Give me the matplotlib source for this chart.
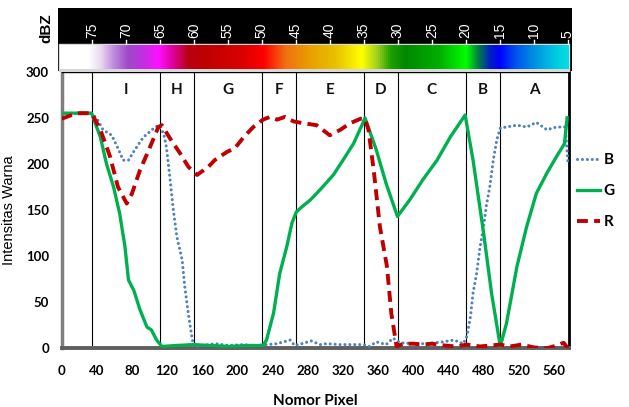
import numpy as np
import matplotlib
matplotlib.use('Agg')
import matplotlib.pyplot as plt
from matplotlib.colors import LinearSegmentedColormap

# pixel number vs colour intensity
r_x = [0, 17, 34, 44, 55, 64, 74, 80, 89, 99, 110, 114, 123, 135, 144, 154, 167, 174, 188, 197,
       207, 218, 229, 237, 245, 254, 264, 276, 290, 305, 317, 328, 340, 345, 349, 355, 362, 370,
       375, 381, 389, 400, 411, 421, 436, 449, 461, 476, 487, 499, 510, 523, 537, 552, 563, 571, 576]
r_y = [249, 255, 255, 237, 208, 175, 157, 168, 193, 215, 240, 242, 228, 211, 197, 188, 197, 204, 213, 217,
       229, 240, 248, 251, 248, 251, 246, 244, 242, 231, 237, 244, 249, 249, 237, 193, 132, 89,
       38, 2, 5, 5, 4, 5, 3, 2, 4, 2, 3, 4, 2, 4, 1, 0, 3, 6, 0]

g_x = [0, 34, 44, 51, 59, 66, 72, 76, 82, 89, 97, 102, 108, 114, 130, 150, 170, 190, 210, 229,
       233, 241, 248, 256, 262, 267, 274, 283, 294, 309, 320, 332, 343, 345, 358, 369, 382, 396,
       411, 427, 442, 459, 468, 480, 489, 499, 506, 518, 529, 540, 552, 563, 572, 575]
g_y = [255, 255, 229, 200, 175, 146, 110, 74, 63, 42, 23, 20, 9, 2, 3, 4, 3, 2, 3, 3,
       9, 38, 81, 110, 136, 148, 154, 161, 172, 188, 204, 222, 245, 250, 215, 179, 143, 161,
       183, 204, 229, 253, 204, 125, 60, 2, 27, 89, 132, 168, 190, 208, 222, 250]

b_x = [0, 34, 40, 47, 57, 63, 70, 76, 83, 93, 104, 110, 116, 119, 123, 127, 131, 137, 140, 144,
       148, 150, 160, 175, 190, 205, 220, 233, 245, 260, 265, 273, 284, 294, 301, 317, 330, 343,
       350, 358, 369, 377, 385, 400, 415, 434, 446, 457, 461, 465, 468, 472, 476, 480, 483, 487,
       491, 495, 499, 506, 518, 529, 540, 552, 563, 573, 576]
b_y = [255, 255, 249, 237, 231, 219, 204, 204, 215, 229, 238, 242, 233, 219, 186, 150, 121, 96, 67, 38,
       13, 2, 3, 5, 3, 4, 3, 4, 5, 9, 3, 5, 8, 4, 5, 4, 4, 4,
       2, 7, 4, 11, 6, 5, 5, 7, 9, 5, 13, 34, 60, 81, 110, 132, 154, 175,
       204, 226, 239, 240, 242, 240, 245, 237, 240, 240, 201]

# dBZ scale and the zones between its marks
dbz_ticks = [75, 70, 65, 60, 55, 50, 45, 40, 35, 30, 25, 20, 15, 10, 5]
zone_bounds = [75, 65, 60, 50, 45, 35, 30, 20, 15]
zone_names = ['I', 'H', 'G', 'F', 'E', 'D', 'C', 'B', 'A']

XMAX = 577.5


def dbz_to_x(d):
    return 34.5 + (75 - d) * 7.73


fig = plt.figure(figsize=(6.29, 4.07), dpi=100)
W, H = 629, 407

ax = fig.add_axes([61.7 / W, (H - 348.3) / H, (569.3 - 61.7) / W, (348.3 - 71.7) / H])

ax.plot(b_x, b_y, color='#4f81bd', lw=2.2, linestyle=(0, (0.01, 1.6)),
        dash_capstyle='round', label='B', zorder=3)
ax.plot(g_x, g_y, color='#00b050', lw=2.4, label='G', zorder=4)
ax.plot(r_x, r_y, color='#c00000', lw=2.8, linestyle=(0, (2.8, 1.6)), label='R', zorder=5)

bx = [dbz_to_x(d) for d in zone_bounds]
for x in bx:
    ax.axvline(x, color='black', lw=0.8, zorder=1)
edges = bx + [XMAX]
for i, name in enumerate(zone_names):
    ax.text((edges[i] + edges[i + 1]) / 2, 280, name, ha='center', va='center',
            fontsize=11, fontweight='bold', family='Lato', color='#111111')

ax.set_xlim(0, XMAX)
ax.set_ylim(0, 300)
ax.set_xticks(np.arange(0, 561, 40))
ax.set_yticks(np.arange(0, 301, 50))
ax.tick_params(length=0, labelsize=9.5)
ax.tick_params(axis='x', pad=12)
ax.tick_params(axis='y', pad=9)
for lab in ax.get_xticklabels() + ax.get_yticklabels():
    lab.set_fontweight('bold')
    lab.set_family('Lato')

ax.spines['left'].set_color('#7f7f7f')
ax.spines['left'].set_linewidth(2.5)
ax.spines['bottom'].set_color('#5f5f5f')
ax.spines['bottom'].set_linewidth(2.8)
ax.spines['right'].set_color('black')
ax.spines['right'].set_linewidth(2)
ax.spines['top'].set_color('black')
ax.spines['top'].set_linewidth(1)

ax.set_xlabel('Nomor Pixel', fontsize=11, fontweight='bold', family='Lato', labelpad=12)
ax.set_ylabel('Intensitas Warna', fontsize=10.5, family='Liberation Sans', labelpad=7)

leg = ax.legend(loc='upper left', bbox_to_anchor=(1.016, 0.705), frameon=False,
                handlelength=1.5, handletextpad=0.2, labelspacing=1.1,
                borderpad=0, borderaxespad=0,
                prop={'family': 'Lato', 'weight': 'bold', 'size': 11})

# colour bar strip on top
cax = fig.add_axes([58 / W, (H - 71) / H, 514 / W, 63 / H])
cax.set_facecolor('black')
for s in cax.spines.values():
    s.set_visible(False)
cax.set_xticks([])
cax.set_yticks([])

stops = [(0.0, '#ffffff'), (0.055, '#ffffff'), (0.079, '#e8d8f0'), (0.102, '#c090e0'),
         (0.132, '#a048c8'), (0.161, '#c030e0'), (0.193, '#ff10ff'), (0.220, '#e000a0'),
         (0.252, '#b80010'), (0.285, '#c00000'), (0.354, '#d80000'), (0.400, '#ff0000'),
         (0.443, '#f07010'), (0.492, '#e8a000'), (0.541, '#e8c000'), (0.594, '#ffff00'),
         (0.624, '#a0d020'), (0.650, '#20a000'), (0.679, '#008800'), (0.748, '#00b000'),
         (0.799, '#00ff00'), (0.823, '#008040'), (0.846, '#0020c0'), (0.866, '#0000ff'),
         (0.896, '#0050f0'), (0.933, '#0090e0'), (0.974, '#00c8e0'), (1.0, '#00e0e8')]
cmap = LinearSegmentedColormap.from_list('dbz', stops)
x0, x1 = (60 - 61.7) / 0.879, (568 - 61.7) / 0.879
cax.fill_between([x0 - 1.5, x1 + 1.5], 44, 71, color='#d8d8d8', zorder=1)
cax.imshow(np.linspace(0, 1, 512)[None, :], cmap=cmap, aspect='auto',
           extent=(x0, x1, 69.5, 45.5), zorder=2)
cax.set_xlim((58 - 61.7) / 0.879, (572 - 61.7) / 0.879)
cax.set_ylim(71, 8)

for d in dbz_ticks:
    x = dbz_to_x(d)
    cax.plot([x, x], [44, 40], color='white', lw=1)
    cax.text(x, 38.5, str(d), rotation=90, ha='center', va='bottom', color='white',
             fontsize=10, family='Liberation Sans')

fig.text(46 / W, 1 - 28 / H, 'dBZ', rotation=90, ha='center', va='center',
         fontsize=11, fontweight='bold', family='Liberation Sans')

fig.savefig('out.png', dpi=100)
